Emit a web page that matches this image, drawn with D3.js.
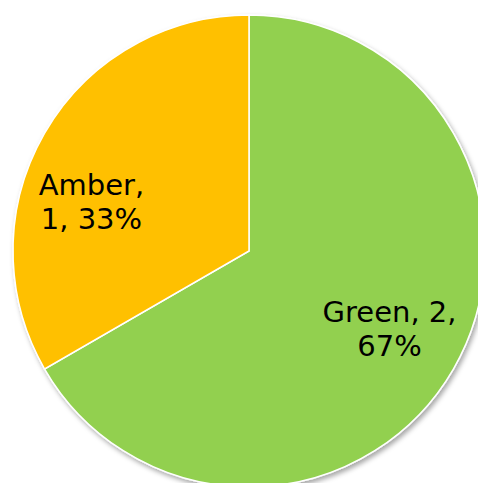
<!DOCTYPE html>
<html>
<head>
<meta charset="utf-8">
<script src="https://cdn.jsdelivr.net/npm/d3@7"></script>
<style>
  html, body { margin: 0; padding: 0; background: #fff; overflow: hidden; }
  svg { display: block; }
</style>
</head>
<body>
<svg id="chart" width="478" height="483"></svg>
<script>
const categories = ["Green", "Amber"];
const values = [2, 1];
const colors = ["#92D050", "#FFC000"];

const cx = 249, cy = 251, R = 236;
const svg = d3.select("#chart");

const defs = svg.append("defs");
const f = defs.append("filter").attr("id", "shadow")
  .attr("x", "-10%").attr("y", "-10%").attr("width", "120%").attr("height", "120%");
f.append("feDropShadow").attr("dx", 2).attr("dy", 3).attr("stdDeviation", 2.5)
  .attr("flood-color", "#000").attr("flood-opacity", 0.35);

const total = d3.sum(values);
const data = categories.map((c, i) => ({ cat: c, val: values[i], color: colors[i] }));

const pie = d3.pie().sort(null).value(d => d.val);
const arcs = pie(data);
const arc = d3.arc().innerRadius(0).outerRadius(R);
const labelArc = d3.arc().innerRadius(160).outerRadius(160);

const g = svg.append("g").attr("transform", `translate(${cx},${cy})`);
const pg = g.append("g").attr("filter", "url(#shadow)");
pg.selectAll("path").data(arcs).join("path")
  .attr("d", arc)
  .attr("fill", d => d.data.color)
  .attr("stroke", "#fff")
  .attr("stroke-width", 1.5);

const nudges = { Green: [2, -2], Amber: [-19, 31] };
const fmtPct = v => Math.round(v / total * 100) + "%";

arcs.forEach(a => {
  const [x0, y0] = labelArc.centroid(a);
  const n = nudges[a.data.cat] || [0, 0];
  const x = x0 + n[0], y = y0 + n[1];
  const lines = a.data.cat === "Green"
    ? [a.data.cat + ", " + a.data.val + ",", fmtPct(a.data.val)]
    : [a.data.cat + ",", a.data.val + ", " + fmtPct(a.data.val)];
  const t = g.append("text")
    .attr("text-anchor", "middle")
    .attr("font-family", "DejaVu Sans, Verdana, sans-serif")
    .attr("font-size", 29)
    .attr("fill", "#000");
  lines.forEach((l, i) => {
    t.append("tspan").attr("x", x).attr("y", y - 7 + i * 34).text(l);
  });
});
</script>
</body>
</html>
